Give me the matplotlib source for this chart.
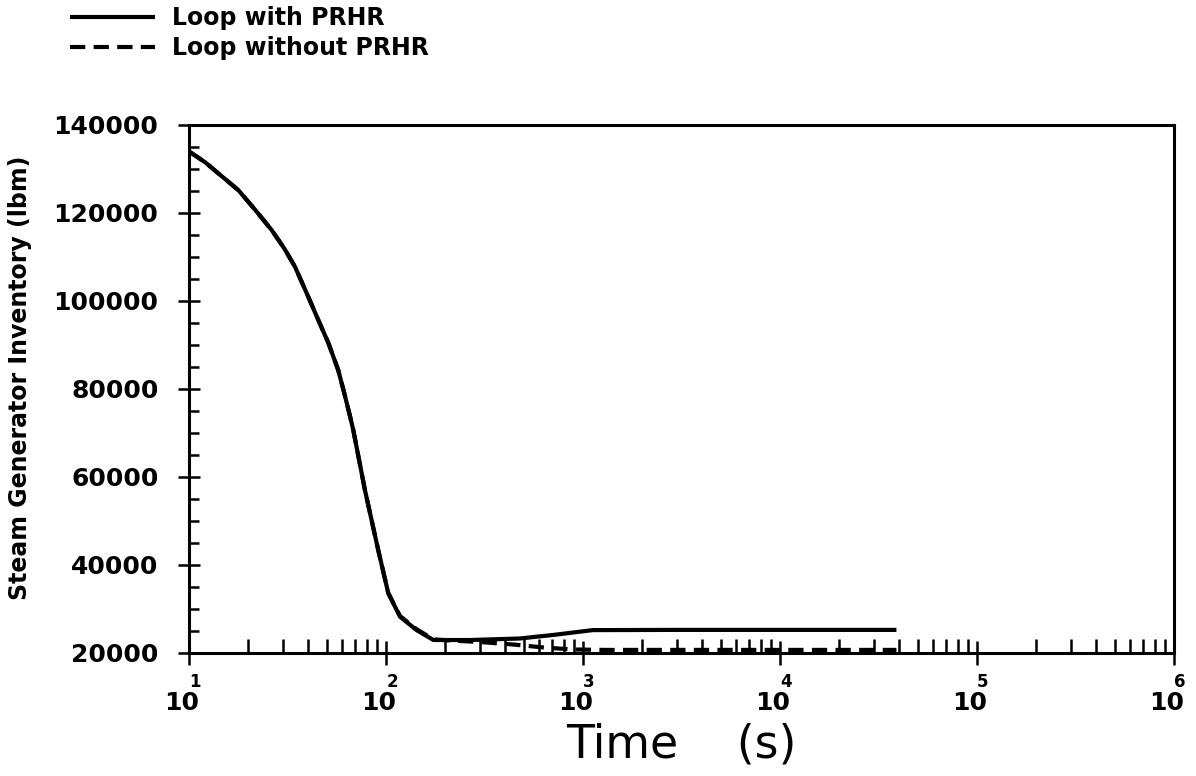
import matplotlib
matplotlib.use("Agg")
import matplotlib.pyplot as plt
from matplotlib.ticker import FixedLocator, NullFormatter, FixedFormatter
from matplotlib.transforms import ScaledTranslation

# Steam generator inventory (lbm) versus time (s)
time_with = [10, 12.1, 14.1, 17.8, 21.5, 26.3, 30.5, 34.5, 40.0, 45.3, 51.0,
             57.2, 61.2, 65.6, 68.2, 78.2, 91.3, 102.7, 117.8, 143, 174, 267,
             479, 705, 1120, 3000, 10000, 39000]
inv_with = [134000, 131500, 129000, 125200, 120900, 116100, 111900, 107800,
            101300, 95700, 90450, 84300, 79300, 73900, 70700, 57000, 43400,
            33600, 28250, 25200, 22950, 22950, 23300, 24100, 25200, 25250,
            25250, 25250]

time_without = [10, 12.1, 14.1, 17.8, 21.5, 26.3, 30.5, 34.5, 40.0, 45.3, 51.0,
                57.2, 61.2, 65.6, 68.2, 78.2, 91.3, 102.7, 117.8, 143, 174,
                220, 300, 450, 650, 900, 1300, 5000, 39000]
inv_without = [134000, 131500, 129000, 125200, 120900, 116100, 111900, 107800,
               101300, 95700, 90450, 84300, 79300, 73900, 70700, 57000, 43400,
               33600, 28400, 25400, 23100, 22800, 22500, 21900, 21200, 20800,
               20700, 20700, 20700]

series_labels = ["Loop with PRHR", "Loop without PRHR"]
y_ticks = [20000, 40000, 60000, 80000, 100000, 120000, 140000]
x_exponents = [1, 2, 3, 4, 5, 6]

plt.rcParams["font.family"] = ["DejaVu Sans"]
plt.rcParams["lines.scale_dashes"] = False

fig = plt.figure(figsize=(11.96, 7.76), dpi=100)
ax = fig.add_axes([189 / 1196, 1 - 653 / 776, (1174 - 189) / 1196, (653 - 125) / 776])

l1, = ax.plot(time_with, inv_with, color="black", lw=3.0, solid_capstyle="butt",
              solid_joinstyle="round")
l2, = ax.plot(time_without, inv_without, color="black", lw=3.0,
              linestyle=(0, (11, 6)), dash_capstyle="butt")

ax.set_xscale("log")
ax.set_xlim(10, 1e6)
ax.set_ylim(20000, 140000)

for s in ax.spines.values():
    s.set_linewidth(2.2)

# x axis: decades with inward minor ticks
majors = [10.0 ** e for e in x_exponents]
minors = [m * 10.0 ** e for e in x_exponents[:-1] for m in range(2, 10)]
ax.xaxis.set_major_locator(FixedLocator(majors))
ax.xaxis.set_minor_locator(FixedLocator(minors))
ax.xaxis.set_major_formatter(FixedFormatter(["10"] * len(majors)))
ax.xaxis.set_minor_formatter(NullFormatter())
ax.tick_params(axis="x", which="major", direction="inout", length=17, width=1.8,
               pad=19, labelsize=18, top=False)
ax.tick_params(axis="x", which="minor", direction="in", length=10, width=1.8,
               top=False)
for lab in ax.get_xticklabels():
    lab.set_fontweight("bold")
    lab.set_transform(lab.get_transform() + ScaledTranslation(-7 / 100, 0, fig.dpi_scale_trans))

for e in x_exponents:
    ax.annotate(str(e), xy=(10.0 ** e, 0), xycoords=("data", "axes fraction"),
                xytext=(6 * 0.72, -34 * 0.72), textcoords="offset points",
                ha="center", va="baseline", fontsize=12, fontweight="bold")

# y axis
ax.yaxis.set_major_locator(FixedLocator(y_ticks))
ax.yaxis.set_minor_locator(FixedLocator(list(range(20000, 140001, 5000))))
ax.set_yticklabels([str(v) for v in y_ticks], fontsize=18, fontweight="bold")
ax.tick_params(axis="y", which="major", direction="inout", length=16, width=1.8,
               pad=14, right=False)
ax.tick_params(axis="y", which="minor", direction="in", length=7, width=1.8,
               right=False)

ax.set_ylabel("Steam Generator Inventory (lbm)", fontsize=17, fontweight="bold")
ax.yaxis.label.set_va("center")
ax.yaxis.set_label_coords(-(189 - 20) / 985, (653 - 378) / 528)

ax.set_xlabel("Time    (s)", fontsize=33)
ax.xaxis.label.set_va("baseline")
ax.xaxis.set_label_coords(0.5, -(757 - 653) / 528)

fig.legend([l1, l2], series_labels, loc="upper left",
           bbox_to_anchor=(70 / 1196, 1 - 6 / 776), frameon=False,
           borderpad=0, borderaxespad=0, handlelength=3.6, handletextpad=0.7,
           labelspacing=0.25, prop={"size": 17, "weight": "bold"})

fig.savefig("out.png", dpi=100, facecolor="white")
